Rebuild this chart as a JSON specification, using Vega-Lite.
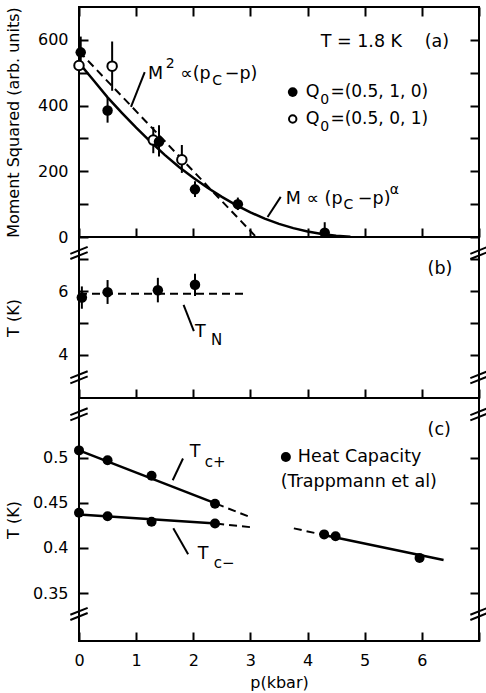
{
  "$schema": "https://vega.github.io/schema/vega-lite/v6.json",
  "background": "white",
  "padding": {"left": 3, "top": 5, "right": 5, "bottom": 0},
  "spacing": 0,
  "bounds": "flush",
  "config": {
    "font": "DejaVu Sans",
    "view": {"stroke": "black", "strokeWidth": 2},
    "axis": {
      "domain": false, "grid": false, "ticks": true,
      "tickColor": "black", "tickWidth": 2, "tickSize": -9,
      "labelFont": "DejaVu Sans", "labelFontSize": 16, "labelColor": "black", "labelPadding": 20, "labelFlush": false,
      "titleFont": "DejaVu Sans", "titleFontSize": 16, "titleFontWeight": "normal", "titleColor": "black"
    },
    "text": {"font": "DejaVu Sans", "fontSize": 17, "color": "black", "align": "left", "baseline": "middle"}
  },
  "datasets": {
    "a_pts": [
      {"p": 0.0, "v": 522, "lo": 500, "hi": 545, "s": "o"},
      {"p": 0.58, "v": 520, "lo": 445, "hi": 595, "s": "o"},
      {"p": 1.3, "v": 295, "lo": 255, "hi": 335, "s": "o"},
      {"p": 1.8, "v": 235, "lo": 195, "hi": 280, "s": "o"},
      {"p": 0.03, "v": 562, "lo": 515, "hi": 610, "s": "f"},
      {"p": 0.5, "v": 385, "lo": 348, "hi": 425, "s": "f"},
      {"p": 1.4, "v": 290, "lo": 245, "hi": 340, "s": "f"},
      {"p": 2.03, "v": 145, "lo": 122, "hi": 170, "s": "f"},
      {"p": 2.78, "v": 100, "lo": 82, "hi": 120, "s": "f"},
      {"p": 4.3, "v": 13, "lo": 0, "hi": 45, "s": "f"}
    ],
    "a_leg": [
      {"p": 3.74, "v": 441, "s": "f"},
      {"p": 3.74, "v": 359, "s": "o"}
    ],
    "a_fit": [
      {"p": 0, "v": 530}, {"p": 0.25, "v": 478}, {"p": 0.5, "v": 425}, {"p": 0.75, "v": 378},
      {"p": 1.0, "v": 333}, {"p": 1.25, "v": 290}, {"p": 1.5, "v": 250}, {"p": 1.75, "v": 213},
      {"p": 2.0, "v": 180}, {"p": 2.25, "v": 150}, {"p": 2.5, "v": 122}, {"p": 2.75, "v": 97},
      {"p": 3.0, "v": 75}, {"p": 3.25, "v": 56}, {"p": 3.5, "v": 40}, {"p": 3.75, "v": 27},
      {"p": 4.0, "v": 17}, {"p": 4.25, "v": 9}, {"p": 4.5, "v": 4}, {"p": 4.75, "v": 1}
    ],
    "a_dash": [{"p": 0, "v": 565}, {"p": 3.1, "v": 0}],
    "a_lead": [
      {"p": 0.91, "v": 396, "p2": 1.15, "v2": 502},
      {"p": 3.3, "v": 61, "p2": 3.53, "v2": 122}
    ],
    "a_text": [
      {"p": 4.23, "v": 593, "t": "T = 1.8 K", "k": "m"},
      {"p": 6.05, "v": 593, "t": "(a)", "k": "m"},
      {"p": 3.97, "v": 441, "t": "Q", "k": "m"},
      {"p": 4.22, "v": 417, "t": "0", "k": "s"},
      {"p": 4.4, "v": 441, "t": "=(0.5, 1, 0)", "k": "q"},
      {"p": 3.97, "v": 359, "t": "Q", "k": "m"},
      {"p": 4.22, "v": 335, "t": "0", "k": "s"},
      {"p": 4.4, "v": 359, "t": "=(0.5, 0, 1)", "k": "q"},
      {"p": 1.206, "v": 496, "t": "M", "k": "m"},
      {"p": 1.52, "v": 527, "t": "2", "k": "s"},
      {"p": 1.77, "v": 496, "t": "∝(p", "k": "m"},
      {"p": 2.33, "v": 476, "t": "C", "k": "s"},
      {"p": 2.55, "v": 496, "t": "−p)", "k": "m"},
      {"p": 3.62, "v": 116, "t": "M ∝ (p", "k": "m"},
      {"p": 4.63, "v": 97, "t": "C", "k": "s"},
      {"p": 4.88, "v": 116, "t": "−p)", "k": "m"},
      {"p": 5.44, "v": 143, "t": "α", "k": "s"}
    ],
    "b_pts": [
      {"p": 0.05, "v": 5.8, "lo": 5.45, "hi": 6.15},
      {"p": 0.5, "v": 5.97, "lo": 5.6, "hi": 6.35},
      {"p": 1.38, "v": 6.03, "lo": 5.65, "hi": 6.42},
      {"p": 2.03, "v": 6.2, "lo": 5.85, "hi": 6.55}
    ],
    "b_dash": [{"p": 0, "v": 5.92}, {"p": 2.9, "v": 5.92}],
    "b_lead": [{"p": 1.83, "v": 5.57, "p2": 2.01, "v2": 4.75}],
    "b_text": [
      {"p": 2.03, "v": 4.72, "t": "T", "k": "m"},
      {"p": 2.31, "v": 4.47, "t": "N", "k": "s"},
      {"p": 6.1, "v": 6.7, "t": "(b)", "k": "m"}
    ],
    "brk_b": [{"p": 0, "v": 7.2}, {"p": 7, "v": 7.2}, {"p": 0, "v": 3.3}, {"p": 7, "v": 3.3}],
    "brk_c": [{"p": 0, "v": 0.548}, {"p": 7, "v": 0.548}, {"p": 0, "v": 0.327}, {"p": 7, "v": 0.327}],
    "c_pts": [
      {"p": 0, "v": 0.508}, {"p": 0.5, "v": 0.497}, {"p": 1.27, "v": 0.48}, {"p": 2.38, "v": 0.449},
      {"p": 0, "v": 0.439}, {"p": 0.5, "v": 0.435}, {"p": 1.27, "v": 0.429}, {"p": 2.38, "v": 0.427},
      {"p": 4.29, "v": 0.415}, {"p": 4.49, "v": 0.413}, {"p": 5.96, "v": 0.389},
      {"p": 3.62, "v": 0.5007}
    ],
    "c_solid": [
      {"p": 0, "v": 0.508, "g": "plus"}, {"p": 2.4, "v": 0.449, "g": "plus"},
      {"p": 0, "v": 0.437, "g": "minus"}, {"p": 2.4, "v": 0.427, "g": "minus"},
      {"p": 4.26, "v": 0.4147, "g": "hp"}, {"p": 6.38, "v": 0.3867, "g": "hp"}
    ],
    "c_dash": [
      {"p": 2.4, "v": 0.449, "g": "plus"}, {"p": 3.0, "v": 0.434, "g": "plus"},
      {"p": 2.4, "v": 0.427, "g": "minus"}, {"p": 3.0, "v": 0.423, "g": "minus"},
      {"p": 3.76, "v": 0.4217, "g": "hp"}, {"p": 4.26, "v": 0.4147, "g": "hp"}
    ],
    "c_lead": [
      {"p": 1.64, "v": 0.475, "p2": 1.82, "v2": 0.499},
      {"p": 1.65, "v": 0.4217, "p2": 1.91, "v2": 0.393}
    ],
    "c_text": [
      {"p": 1.94, "v": 0.506, "t": "T", "k": "m"},
      {"p": 2.2, "v": 0.495, "t": "c+", "k": "s"},
      {"p": 2.08, "v": 0.393, "t": "T", "k": "m"},
      {"p": 2.36, "v": 0.383, "t": "c−", "k": "s"},
      {"p": 6.1, "v": 0.5306, "t": "(c)", "k": "m"},
      {"p": 3.83, "v": 0.5007, "t": "Heat Capacity", "k": "m"},
      {"p": 3.53, "v": 0.473, "t": "(Trappmann et al)", "k": "m"}
    ]
  },
  "vconcat": [
    {
      "width": 400, "height": 230,
      "resolve": {"axis": {"x": "independent", "y": "independent"}},
      "layer": [
        {
          "data": {"name": "a_pts"},
          "mark": {"type": "rule", "strokeWidth": 2, "color": "black"},
          "encoding": {
            "x": {"field": "p", "type": "quantitative", "scale": {"domain": [0, 7], "nice": false, "zero": false},
                  "axis": {"orient": "bottom", "values": [0, 1, 2, 3, 4, 5, 6, 7], "labels": false, "title": null}},
            "y": {"field": "lo", "type": "quantitative", "scale": {"domain": [0, 700], "nice": false, "zero": false},
                  "axis": {"orient": "left", "values": [0, 100, 200, 300, 400, 500, 600], "labelExpr": "datum.value % 200 === 0 ? datum.label : ''",
                           "title": "Moment Squared (arb. units)", "titleX": -58}},
            "y2": {"field": "hi"}
          }
        },
        {
          "data": {"name": "a_fit"},
          "mark": {"type": "line", "strokeWidth": 2.5, "color": "black"},
          "encoding": {
            "x": {"field": "p", "type": "quantitative", "axis": {"orient": "top", "values": [0, 1, 2, 3, 4, 5, 6, 7], "labels": false, "title": null}},
            "y": {"field": "v", "type": "quantitative", "axis": {"orient": "right", "values": [0, 100, 200, 300, 400, 500, 600], "labels": false, "title": null}}
          }
        },
        {
          "data": {"name": "a_dash"},
          "mark": {"type": "line", "strokeWidth": 2, "color": "black", "strokeDash": [8, 5]},
          "encoding": {
            "x": {"field": "p", "type": "quantitative", "axis": null},
            "y": {"field": "v", "type": "quantitative", "axis": null}
          }
        },
        {
          "data": {"name": "a_lead"},
          "mark": {"type": "rule", "strokeWidth": 2, "color": "black"},
          "encoding": {
            "x": {"field": "p", "type": "quantitative", "axis": null},
            "y": {"field": "v", "type": "quantitative", "axis": null},
            "x2": {"field": "p2"}, "y2": {"field": "v2"}
          }
        },
        {
          "data": {"name": "a_pts"},
          "transform": [{"filter": "datum.s === 'o'"}],
          "mark": {"type": "point", "shape": "circle", "size": 90, "fill": "white", "stroke": "black", "strokeWidth": 2, "opacity": 1, "filled": false},
          "encoding": {
            "x": {"field": "p", "type": "quantitative", "axis": null},
            "y": {"field": "v", "type": "quantitative", "axis": null}
          }
        },
        {
          "data": {"name": "a_pts"},
          "transform": [{"filter": "datum.s === 'f'"}],
          "mark": {"type": "circle", "size": 110, "color": "black", "opacity": 1},
          "encoding": {
            "x": {"field": "p", "type": "quantitative", "axis": null},
            "y": {"field": "v", "type": "quantitative", "axis": null}
          }
        },
        {
          "data": {"name": "a_leg"},
          "transform": [{"filter": "datum.s === 'f'"}],
          "mark": {"type": "circle", "size": 95, "color": "black", "opacity": 1},
          "encoding": {
            "x": {"field": "p", "type": "quantitative", "axis": null},
            "y": {"field": "v", "type": "quantitative", "axis": null}
          }
        },
        {
          "data": {"name": "a_leg"},
          "transform": [{"filter": "datum.s === 'o'"}],
          "mark": {"type": "point", "shape": "circle", "size": 55, "fill": "white", "stroke": "black", "strokeWidth": 2, "opacity": 1, "filled": false},
          "encoding": {
            "x": {"field": "p", "type": "quantitative", "axis": null},
            "y": {"field": "v", "type": "quantitative", "axis": null}
          }
        },
        {
          "data": {"name": "a_text"},
          "transform": [{"filter": "datum.k === 'm'"}],
          "mark": {"type": "text", "fontSize": 17.5},
          "encoding": {
            "x": {"field": "p", "type": "quantitative", "axis": null},
            "y": {"field": "v", "type": "quantitative", "axis": null},
            "text": {"field": "t"}
          }
        },
        {
          "data": {"name": "a_text"},
          "transform": [{"filter": "datum.k === 'q'"}],
          "mark": {"type": "text", "fontSize": 17},
          "encoding": {
            "x": {"field": "p", "type": "quantitative", "axis": null},
            "y": {"field": "v", "type": "quantitative", "axis": null},
            "text": {"field": "t"}
          }
        },
        {
          "data": {"name": "a_text"},
          "transform": [{"filter": "datum.k === 's'"}],
          "mark": {"type": "text", "fontSize": 14},
          "encoding": {
            "x": {"field": "p", "type": "quantitative", "axis": null},
            "y": {"field": "v", "type": "quantitative", "axis": null},
            "text": {"field": "t"}
          }
        }
      ]
    },
    {
      "width": 400, "height": 161,
      "resolve": {"axis": {"x": "independent", "y": "independent"}},
      "layer": [
        {
          "data": {"name": "b_pts"},
          "mark": {"type": "rule", "strokeWidth": 2, "color": "black"},
          "encoding": {
            "x": {"field": "p", "type": "quantitative", "scale": {"domain": [0, 7], "nice": false, "zero": false},
                  "axis": {"orient": "bottom", "values": [0, 1, 2, 3, 4, 5, 6, 7], "labels": false, "title": null}},
            "y": {"field": "lo", "type": "quantitative", "scale": {"domain": [2.65, 7.7], "nice": false, "zero": false},
                  "axis": {"orient": "left", "values": [4, 5, 6, 7], "labelExpr": "datum.value % 2 === 0 ? datum.label : ''",
                           "title": "T (K)", "titleX": -58}},
            "y2": {"field": "hi"}
          }
        },
        {
          "data": {"name": "b_dash"},
          "mark": {"type": "line", "strokeWidth": 2, "color": "black", "strokeDash": [8, 5]},
          "encoding": {
            "x": {"field": "p", "type": "quantitative", "axis": null},
            "y": {"field": "v", "type": "quantitative", "axis": {"orient": "right", "values": [4, 5, 6, 7], "labels": false, "title": null}}
          }
        },
        {
          "data": {"name": "b_lead"},
          "mark": {"type": "rule", "strokeWidth": 2, "color": "black"},
          "encoding": {
            "x": {"field": "p", "type": "quantitative", "axis": null},
            "y": {"field": "v", "type": "quantitative", "axis": null},
            "x2": {"field": "p2"}, "y2": {"field": "v2"}
          }
        },
        {
          "data": {"name": "b_pts"},
          "mark": {"type": "circle", "size": 110, "color": "black", "opacity": 1},
          "encoding": {
            "x": {"field": "p", "type": "quantitative", "axis": null},
            "y": {"field": "v", "type": "quantitative", "axis": null}
          }
        },
        {
          "data": {"name": "brk_b"},
          "mark": {"type": "point", "shape": "M-1,0.1L1,-0.7M-1,0.7L1,-0.1", "size": 300, "filled": false, "stroke": "black", "strokeWidth": 2, "opacity": 1},
          "encoding": {
            "x": {"field": "p", "type": "quantitative", "axis": null},
            "y": {"field": "v", "type": "quantitative", "axis": null}
          }
        },
        {
          "data": {"name": "b_text"},
          "transform": [{"filter": "datum.k === 'm'"}],
          "mark": {"type": "text", "fontSize": 17.5},
          "encoding": {
            "x": {"field": "p", "type": "quantitative", "axis": null},
            "y": {"field": "v", "type": "quantitative", "axis": null},
            "text": {"field": "t"}
          }
        },
        {
          "data": {"name": "b_text"},
          "transform": [{"filter": "datum.k === 's'"}],
          "mark": {"type": "text", "fontSize": 15},
          "encoding": {
            "x": {"field": "p", "type": "quantitative", "axis": null},
            "y": {"field": "v", "type": "quantitative", "axis": null},
            "text": {"field": "t"}
          }
        }
      ]
    },
    {
      "width": 400, "height": 243,
      "resolve": {"axis": {"x": "independent", "y": "independent"}},
      "layer": [
        {
          "data": {"name": "c_solid"},
          "mark": {"type": "line", "strokeWidth": 2.5, "color": "black"},
          "encoding": {
            "x": {"field": "p", "type": "quantitative", "scale": {"domain": [0, 7], "nice": false, "zero": false},
                  "axis": {"orient": "bottom", "values": [0, 1, 2, 3, 4, 5, 6, 7], "labelExpr": "datum.value < 7 ? datum.label : ''", "title": "p(kbar)", "titlePadding": 6}},
            "y": {"field": "v", "type": "quantitative", "scale": {"domain": [0.297, 0.566], "nice": false, "zero": false},
                  "axis": {"orient": "left", "values": [0.35, 0.4, 0.45, 0.5], "format": ".2~f", "title": "T (K)", "titleX": -58}},
            "detail": {"field": "g"}
          }
        },
        {
          "data": {"name": "c_dash"},
          "mark": {"type": "line", "strokeWidth": 2, "color": "black", "strokeDash": [8, 5]},
          "encoding": {
            "x": {"field": "p", "type": "quantitative", "axis": null},
            "y": {"field": "v", "type": "quantitative", "axis": {"orient": "right", "values": [0.35, 0.4, 0.45, 0.5], "labels": false, "title": null}},
            "detail": {"field": "g"}
          }
        },
        {
          "data": {"name": "c_lead"},
          "mark": {"type": "rule", "strokeWidth": 2, "color": "black"},
          "encoding": {
            "x": {"field": "p", "type": "quantitative", "axis": null},
            "y": {"field": "v", "type": "quantitative", "axis": null},
            "x2": {"field": "p2"}, "y2": {"field": "v2"}
          }
        },
        {
          "data": {"name": "c_pts"},
          "mark": {"type": "circle", "size": 100, "color": "black", "opacity": 1},
          "encoding": {
            "x": {"field": "p", "type": "quantitative", "axis": null},
            "y": {"field": "v", "type": "quantitative", "axis": null}
          }
        },
        {
          "data": {"name": "brk_c"},
          "mark": {"type": "point", "shape": "M-1,0.1L1,-0.7M-1,0.7L1,-0.1", "size": 300, "filled": false, "stroke": "black", "strokeWidth": 2, "opacity": 1},
          "encoding": {
            "x": {"field": "p", "type": "quantitative", "axis": null},
            "y": {"field": "v", "type": "quantitative", "axis": null}
          }
        },
        {
          "data": {"name": "c_text"},
          "transform": [{"filter": "datum.k === 'm'"}],
          "mark": {"type": "text", "fontSize": 17.5},
          "encoding": {
            "x": {"field": "p", "type": "quantitative", "axis": null},
            "y": {"field": "v", "type": "quantitative", "axis": null},
            "text": {"field": "t"}
          }
        },
        {
          "data": {"name": "c_text"},
          "transform": [{"filter": "datum.k === 's'"}],
          "mark": {"type": "text", "fontSize": 15},
          "encoding": {
            "x": {"field": "p", "type": "quantitative", "axis": null},
            "y": {"field": "v", "type": "quantitative", "axis": null},
            "text": {"field": "t"}
          }
        }
      ]
    }
  ]
}
